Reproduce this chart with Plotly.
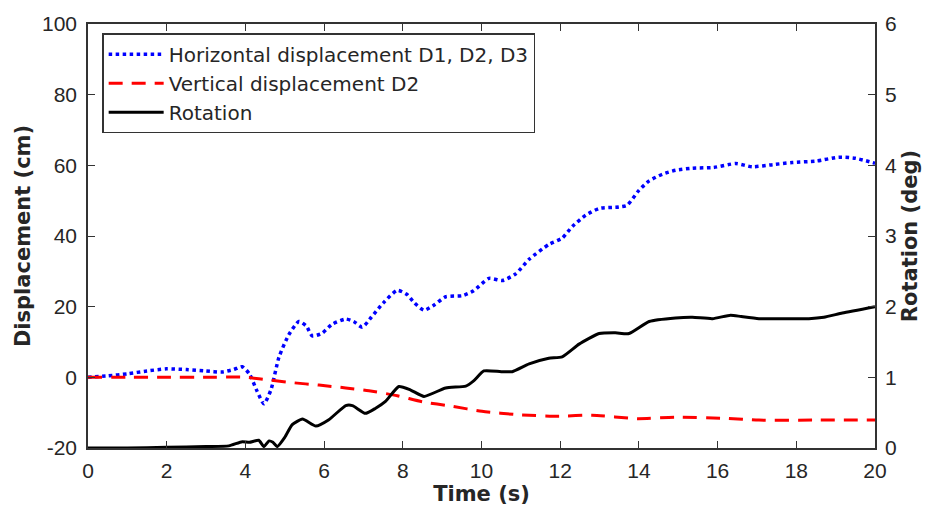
import plotly.graph_objects as go

# Time samples and values for each response history
t_horiz = [0, 0.5, 1, 1.5, 2.0, 2.5, 3.0, 3.4, 3.7, 3.92, 4.1, 4.3, 4.47, 4.65, 4.85, 5.1,
           5.36, 5.55, 5.7, 5.95, 6.2, 6.55, 6.75, 6.97, 7.2, 7.5, 7.86, 8.1, 8.3, 8.54,
           8.8, 9.09, 9.51, 9.8, 10.19, 10.53, 10.87, 11.21, 11.71, 12.05, 12.31, 12.65,
           12.99, 13.49, 13.7, 14.0, 14.26, 14.6, 14.93, 15.36, 15.9, 16.46, 16.88, 17.4,
           17.9, 18.5, 19.08, 19.5, 20.0]
horiz_disp = [0, 0.4, 1.0, 1.8, 2.4, 2.2, 1.8, 1.5, 2.2, 3.0, 1.0, -4.0, -7.5, -3.5, 5.6, 12.0,
              15.8, 14.5, 11.7, 12.5, 15.0, 16.5, 15.8, 14.2, 17.0, 21.0, 24.6, 23.5, 21.0, 19.0,
              20.5, 22.8, 23.1, 24.5, 28.0, 27.4, 29.3, 33.4, 37.6, 39.4, 42.7, 45.9,
              47.8, 48.2, 48.7, 52.9, 55.6, 57.5, 58.6, 59.2, 59.4, 60.5, 59.6, 60.2,
              60.8, 61.2, 62.3, 62.0, 60.6]

t_vert = [0, 1, 2, 3, 3.92, 4.34, 5.19, 5.87, 6.55, 7.14, 7.86, 8.49, 9.25, 10.01, 10.95,
          11.97, 12.81, 13.96, 14.93, 16.2, 17.05, 18.5, 20.0]
vert_disp = [0, 0, 0, 0, 0.1, -0.4, -1.5, -2.2, -3.0, -3.8, -5.2, -6.9, -8.2, -9.6, -10.6,
             -11.0, -10.7, -11.7, -11.3, -11.6, -12.1, -12.1, -12.1]

t_rot = [0, 1, 2, 3.0, 3.58, 3.92, 4.1, 4.34, 4.47, 4.6, 4.7, 4.81, 5.0, 5.19, 5.45, 5.79,
         6.12, 6.55, 6.72, 7.05, 7.3, 7.56, 7.9, 8.2, 8.54, 9.09, 9.6, 9.8, 10.06, 10.5,
         10.78, 11.21, 11.71, 12.05, 12.48, 12.99, 13.4, 13.75, 14.26, 14.93, 15.36, 15.87,
         16.33, 16.6, 17.05, 17.7, 18.32, 18.7, 19.17, 20.0]
rotation = [0, 0.0, 0.01, 0.02, 0.03, 0.09, 0.08, 0.11, 0.02, 0.10, 0.08, 0.02, 0.15, 0.33,
            0.41, 0.31, 0.40, 0.60, 0.60, 0.49, 0.56, 0.66, 0.87, 0.82, 0.73, 0.85, 0.875,
            0.95, 1.09, 1.08, 1.08, 1.19, 1.27, 1.29, 1.47, 1.62, 1.63, 1.62, 1.79, 1.84,
            1.85, 1.83, 1.88, 1.86, 1.83, 1.83, 1.83, 1.85, 1.91, 2.0]

x_ticks = list(range(0, 21, 2))
disp_ticks = list(range(-20, 101, 20))
disp_labels = [str(v) for v in disp_ticks]  # plain hyphen for negatives
rot_ticks = list(range(0, 7))

FONT = "DejaVu Sans, Arial, sans-serif"
TICK_FONT = "Liberation Sans, Arial, sans-serif"
TEXT = "#262626"

fig = go.Figure()
fig.add_trace(go.Scatter(
    x=t_horiz, y=horiz_disp, mode="lines", name="Horizontal displacement D1, D2, D3",
    line=dict(color="#0000FF", width=3.5, dash="dot", shape="spline", smoothing=0.6),
))
fig.add_trace(go.Scatter(
    x=t_vert, y=vert_disp, mode="lines", name="Vertical displacement D2",
    line=dict(color="#FF0000", width=3, dash="14px,9px", shape="spline", smoothing=0.6),
))
fig.add_trace(go.Scatter(
    x=t_rot, y=rotation, mode="lines", name="Rotation", yaxis="y2",
    line=dict(color="#000000", width=3, shape="spline", smoothing=0.5),
))

axis_common = dict(
    showline=True, linecolor="#333", linewidth=1.5, ticks="inside", ticklen=7,
    tickcolor="#333", tickwidth=1.2, showgrid=False, zeroline=False,
    tickfont=dict(family=TICK_FONT, size=21, color=TEXT),
)
title_font = dict(family=FONT, size=21, color=TEXT)

fig.update_layout(
    width=935, height=522,
    margin=dict(l=88, r=60, t=16, b=74),
    paper_bgcolor="white", plot_bgcolor="white",
    font=dict(family=FONT, color=TEXT),
    xaxis=dict(
        range=[0, 20], tickvals=x_ticks, mirror="ticks", ticklabelstandoff=3,
        title=dict(text="<b>Time (s)</b>", font=title_font, standoff=4),
        **axis_common,
    ),
    yaxis=dict(
        range=[-20, 100], tickvals=disp_ticks, ticktext=disp_labels, ticklabelstandoff=5,
        title=dict(text="<b>Displacement (cm)</b>", font=title_font, standoff=6),
        **axis_common,
    ),
    yaxis2=dict(
        range=[0, 6], tickvals=rot_ticks, overlaying="y", side="right", ticklabelstandoff=4,
        title=dict(text="<b>Rotation (deg)</b>", font=title_font, standoff=6),
        **axis_common,
    ),
    legend=dict(
        x=0.018, y=0.978, xanchor="left", yanchor="top",
        bgcolor="white", bordercolor="#333", borderwidth=1.5,
        font=dict(family=FONT, size=20, color=TEXT),
        itemwidth=55, tracegroupgap=0,
    ),
    showlegend=True,
)

fig.write_html("out.html")
